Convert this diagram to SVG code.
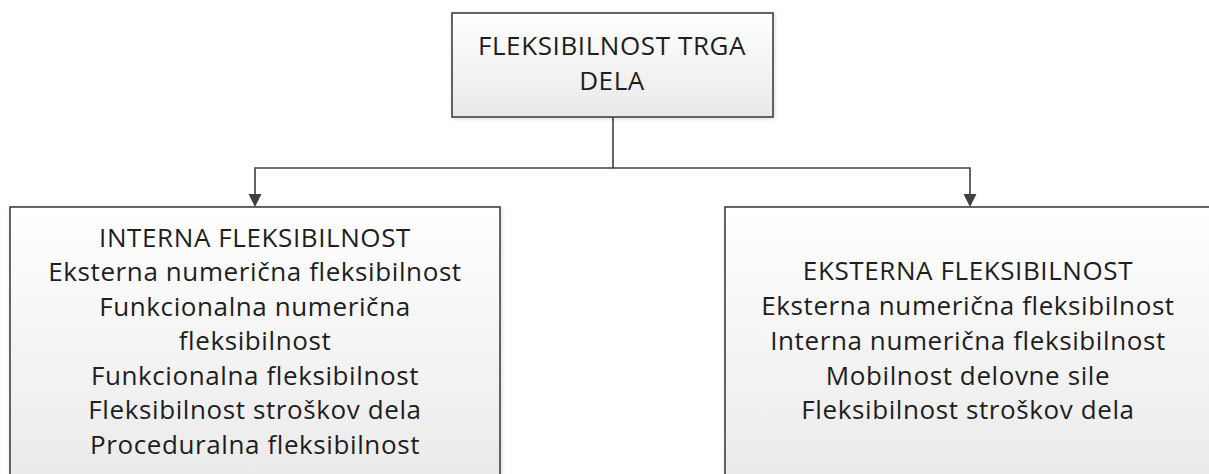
<svg xmlns="http://www.w3.org/2000/svg" width="1209" height="474" viewBox="0 0 1209 474">
<defs>
<linearGradient id="g" x1="0" y1="0" x2="0" y2="1">
<stop offset="0" stop-color="#ffffff"/>
<stop offset="1" stop-color="#e9e9e9"/>
</linearGradient>
<filter id="sh" x="-5%" y="-5%" width="110%" height="110%">
<feGaussianBlur in="SourceAlpha" stdDeviation="2"/>
<feOffset dx="1" dy="1"/>
<feComponentTransfer><feFuncA type="linear" slope="0.15"/></feComponentTransfer>
<feMerge><feMergeNode/><feMergeNode in="SourceGraphic"/></feMerge>
</filter>
</defs>
<style>
.box{fill:url(#g);stroke:#404040;stroke-width:1.6}
.t{font-family:"Open Sans","Noto Sans",sans-serif;font-size:26px;letter-spacing:0.6px;fill:#1e1e1e;text-anchor:middle}
.c{fill:none;stroke:#404040;stroke-width:1.6}
</style>
<rect width="1209" height="474" fill="#ffffff"/>
<g id="connectors">
<path class="c" d="M613,117 V168 H255 V197"/>
<path class="c" d="M613,168 H970 V197"/>
<path d="M248.5,194 L261.5,194 L255,207 Z" fill="#404040"/>
<path d="M963.5,194 L976.5,194 L970,207 Z" fill="#404040"/>
</g>
<g id="node-top">
<rect class="box" x="452" y="13" width="321" height="104" filter="url(#sh)"/>
<text class="t" x="612" y="55">FLEKSIBILNOST TRGA</text>
<text class="t" x="612" y="90">DELA</text>
</g>
<g id="node-internal">
<rect class="box" x="10" y="207" width="490" height="290" filter="url(#sh)"/>
<text class="t" x="255" y="246.5">INTERNA FLEKSIBILNOST</text>
<text class="t" x="255" y="281">Eksterna numerična fleksibilnost</text>
<text class="t" x="255" y="315.5">Funkcionalna numerična</text>
<text class="t" x="255" y="350">fleksibilnost</text>
<text class="t" x="255" y="384.5">Funkcionalna fleksibilnost</text>
<text class="t" x="255" y="419">Fleksibilnost stroškov dela</text>
<text class="t" x="255" y="453.5">Proceduralna fleksibilnost</text>
</g>
<g id="node-external">
<rect class="box" x="725" y="207" width="490" height="290" filter="url(#sh)"/>
<text class="t" x="968" y="280">EKSTERNA FLEKSIBILNOST</text>
<text class="t" x="968" y="315">Eksterna numerična fleksibilnost</text>
<text class="t" x="968" y="350">Interna numerična fleksibilnost</text>
<text class="t" x="968" y="385">Mobilnost delovne sile</text>
<text class="t" x="968" y="419">Fleksibilnost stroškov dela</text>
</g>
</svg>
